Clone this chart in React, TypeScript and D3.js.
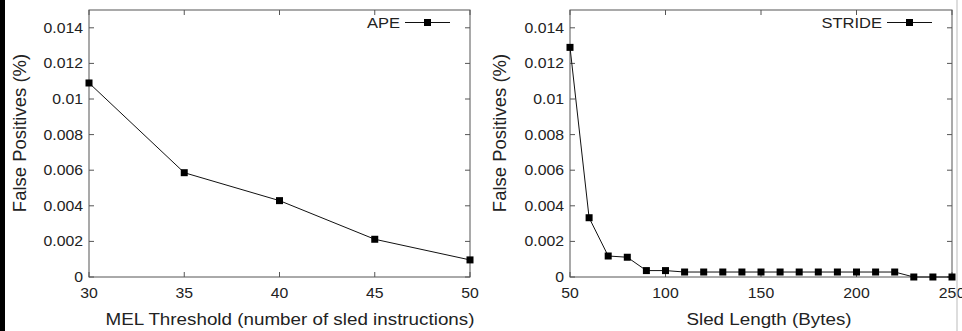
import React from "react";
import * as d3 from "d3";

const apeX = [30, 35, 40, 45, 50];
const apeY = [0.0109, 0.00586, 0.00429, 0.00212, 0.00096];

const strideX = [50, 60, 70, 80, 90, 100, 110, 120, 130, 140, 150, 160, 170, 180, 190, 200, 210, 220, 230, 240, 250];
const strideY = [0.0129, 0.00333, 0.00118, 0.00111, 0.00036, 0.00036, 0.00028, 0.00028, 0.00028, 0.00028, 0.00028, 0.00028, 0.00028, 0.00028, 0.00028, 0.00028, 0.00028, 0.00028, 0, 0, 0];

const yTicks = [0, 0.002, 0.004, 0.006, 0.008, 0.01, 0.012, 0.014];
const apeTicks = [30, 35, 40, 45, 50];
const strideTicks = [50, 100, 150, 200, 250];

const yTitle = "False Positives (%)";
const apeXTitle = "MEL Threshold (number of sled instructions)";
const strideXTitle = "Sled Length (Bytes)";

const FONT = "'Liberation Sans', Arial, sans-serif";
const AXIS = "#555";
const TXT = "#222";

type PanelProps = {
  left: number;
  right: number;
  xDomain: [number, number];
  xTicks: number[];
  xs: number[];
  ys: number[];
  name: string;
  xTitle: string;
  xTitleCx: number;
  yTitleX: number;
  legendEnd: number;
};

function Panel(p: PanelProps) {
  const top = 10;
  const bottom = 277;
  const x = d3.scaleLinear().domain(p.xDomain).range([p.left, p.right]);
  const y = d3.scaleLinear().domain([0, 0.015]).range([bottom, top]);
  const line = d3
    .line<number>()
    .x((_, i) => x(p.xs[i]))
    .y((d) => y(d));
  const tl = 5;
  const fmt = (v: number) => String(+v.toFixed(3));
  const legY = 22.5;
  const lineEnd = p.legendEnd;
  const lineStart = lineEnd - 45;
  return (
    <g>
      <rect x={p.left} y={top} width={p.right - p.left} height={bottom - top} fill="none" stroke={AXIS} strokeWidth={1} />
      {yTicks.map((t) => (
        <g key={"y" + t}>
          <line x1={p.left} x2={p.left + tl} y1={y(t)} y2={y(t)} stroke={AXIS} />
          <line x1={p.right - tl} x2={p.right} y1={y(t)} y2={y(t)} stroke={AXIS} />
          <text
            transform={`translate(${p.left - 6},${y(t) + 5}) scale(1.13,1)`}
            textAnchor="end"
            fontFamily={FONT}
            fontSize={14}
            fill={TXT}
          >
            {fmt(t)}
          </text>
        </g>
      ))}
      {p.xTicks.map((t) => (
        <g key={"x" + t}>
          <line x1={x(t)} x2={x(t)} y1={bottom} y2={bottom - tl} stroke={AXIS} />
          <line x1={x(t)} x2={x(t)} y1={top} y2={top + tl} stroke={AXIS} />
          <text
            transform={`translate(${x(t)},${298}) scale(1.13,1)`}
            textAnchor="middle"
            fontFamily={FONT}
            fontSize={14}
            fill={TXT}
          >
            {t}
          </text>
        </g>
      ))}
      <path d={line(p.ys) || ""} fill="none" stroke="#111" strokeWidth={1} />
      {p.ys.map((v, i) => (
        <rect key={"m" + i} x={x(p.xs[i]) - 3.5} y={y(v) - 3.5} width={7} height={7} fill="#000" />
      ))}
      <text
        transform={`translate(${p.xTitleCx},${325}) scale(1.14,1)`}
        textAnchor="middle"
        fontFamily={FONT}
        fontSize={16.5}
        fill={TXT}
      >
        {p.xTitle}
      </text>
      <text
        transform={`translate(${p.yTitleX + 6},${133}) rotate(-90)`}
        textAnchor="middle"
        fontFamily={FONT}
        fontSize={18.5}
        fill={TXT}
      >
        {yTitle}
      </text>
      <text
        transform={`translate(${lineStart - 5},${28}) scale(1.1,1)`}
        textAnchor="end"
        fontFamily={FONT}
        fontSize={15}
        fill={TXT}
      >
        {p.name}
      </text>
      <line x1={lineStart} x2={lineEnd} y1={legY} y2={legY} stroke="#111" />
      <rect x={(lineStart + lineEnd) / 2 - 3.5} y={legY - 3.5} width={7} height={7} fill="#000" />
    </g>
  );
}

export default function App() {
  return (
    <svg
      width={962}
      height={331}
      style={{ position: "absolute", left: 0, top: 0, background: "#fff" }}
    >
      <rect x={0} y={0} width={962} height={331} fill="#fff" />
      <Panel
        left={89}
        right={470}
        xDomain={[30, 50]}
        xTicks={apeTicks}
        xs={apeX}
        ys={apeY}
        name="APE"
        xTitle={apeXTitle}
        xTitleCx={290}
        yTitleX={20}
        legendEnd={450}
      />
      <Panel
        left={570}
        right={952}
        xDomain={[50, 250]}
        xTicks={strideTicks}
        xs={strideX}
        ys={strideY}
        name="STRIDE"
        xTitle={strideXTitle}
        xTitleCx={769}
        yTitleX={500}
        legendEnd={932}
      />
      <rect x={0} y={0} width={5} height={331} fill="#000" />
      <line x1={957} x2={957} y1={0} y2={331} stroke="#bbb" strokeWidth={1} />
    </svg>
  );
}
